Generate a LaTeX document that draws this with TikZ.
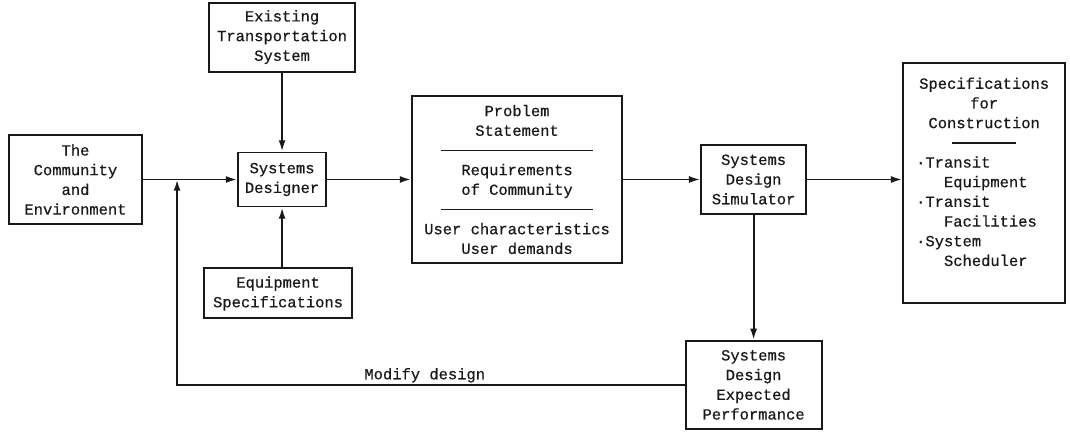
\documentclass[tikz,border=0pt]{standalone}
\usepackage{fontspec}
\setmainfont{Liberation Mono}[FakeBold=0.6]
\definecolor{ink}{RGB}{25, 25, 25}
\usepackage{tikz}
\usetikzlibrary{arrows.meta, positioning, calc}
\tikzset{
  blkbox/.style={rectangle, draw=ink, line width=1.4pt, align=center, inner sep=2pt, text=ink},
  flowarrow/.style={-{Latex[length=8pt, width=5pt]}, line width=1.4pt, ink},
}
\newcommand{\seprule}[1]{\rule[3pt]{#1}{0.8pt}}

\begin{document}
\begin{tikzpicture}[every node/.style={font=\fontsize{11}{14}\selectfont}]
  \useasboundingbox (-1.8875,4.4875) rectangle (24.8625,-6.3125);
  \node[blkbox, minimum width=3.33cm, minimum height=2.22cm] (comm) at (0,0) {The\\Community\\and\\Environment};
  \node[blkbox, minimum width=2.2cm, minimum height=1.35cm] (desig) [right=2.35cm of comm] {Systems\\Designer};
  \node[blkbox, minimum width=3.65cm, minimum height=1.72cm] (exist) [above=1.975cm of desig] {Existing\\Transportation\\System};
  \node[blkbox, minimum width=3.7cm, minimum height=1.25cm] (equip) [below=1.5cm of desig, xshift=-0.1cm] {Equipment\\Specifications};
  \node[blkbox, minimum width=5.25cm, minimum height=4.18cm] (prob) [right=2.1cm of desig] {Problem\\Statement\\\seprule{3.8cm}\\Requirements\\of Community\\\seprule{3.8cm}\\User characteristics\\User demands};
  \node[blkbox, minimum width=2.62cm, minimum height=1.72cm] (sim) [right=1.93cm of prob] {Systems\\Design\\Simulator};
  \node[blkbox, minimum width=4.05cm, minimum height=6cm, text width=3.4cm, align=left] (spec) [right=2.38cm of sim, yshift=-0.09cm]
    {{\centering Specifications\\for\\Construction\\\seprule{1.6cm}\par}
     ·Transit\\\phantom{xxx}Equipment\\·Transit\\\phantom{xxx}Facilities\\·System\\\phantom{xxx}Scheduler\par\vspace{16pt}};
  \node[blkbox, minimum width=3.4cm, minimum height=2.2cm] (expt) [below=3.125cm of sim] {Systems\\Design\\Expected\\Performance};
  \coordinate[right=0.85cm of comm.east] (jn);
  \draw[flowarrow] (comm) -- (desig);
  \draw[flowarrow] (exist) -- (desig);
  \draw[flowarrow] (equip.north -| desig) -- (desig);
  \draw[flowarrow] (desig) -- (prob);
  \draw[flowarrow] (prob) -- (sim);
  \draw[flowarrow] (sim) -- (spec.west |- sim);
  \draw[flowarrow] (sim) -- (expt);
  \draw[flowarrow] (expt.west) -| (jn) node[pos=0.256, above, inner sep=1pt, text=ink] {Modify design};
\end{tikzpicture}
\end{document}
